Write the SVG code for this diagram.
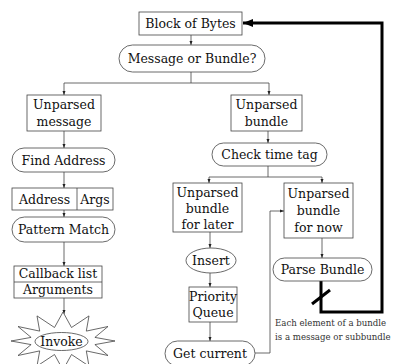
<svg xmlns="http://www.w3.org/2000/svg" width="401" height="364" viewBox="0 0 401 364">
<style>
.b{fill:#fff;stroke:#444;stroke-width:0.8}
.t{font-family:"DejaVu Serif","Liberation Serif",serif;font-size:12.5px;fill:#111;text-anchor:middle}
.s{font-family:"DejaVu Serif","Liberation Serif",serif;font-size:8.6px;fill:#333}
.c{fill:none;stroke:#444;stroke-width:0.8}
.k{fill:none;stroke:#000;stroke-width:3}
</style>
<defs>
<marker id="a" markerWidth="4" markerHeight="4" refX="4" refY="2" orient="auto" markerUnits="userSpaceOnUse"><path d="M0,0.5 L4,2 L0,3.5 Z" fill="#222"/></marker>
<marker id="A" markerWidth="10" markerHeight="8" refX="10" refY="4" orient="auto" markerUnits="userSpaceOnUse"><path d="M0,0 L10,4 L0,8 Z" fill="#000"/></marker>
</defs>
<g id="connectors">
<path class="c" d="M191,35 V45" marker-end="url(#a)"/>
<path class="c" d="M191,72 V83 M64,83 H269"/>
<path class="c" d="M64,83 V95" marker-end="url(#a)"/>
<path class="c" d="M269,83 V95" marker-end="url(#a)"/>
<path class="c" d="M64,131 V148" marker-end="url(#a)"/>
<path class="c" d="M64,172 V188" marker-end="url(#a)"/>
<path class="c" d="M64,210 V217" marker-end="url(#a)"/>
<path class="c" d="M64,242 V266" marker-end="url(#a)"/>
<path class="c" d="M64,298 V314" marker-end="url(#a)"/>
<path class="c" d="M268,131 V143" marker-end="url(#a)"/>
<path class="c" d="M268,166 V177 M209,177 H322"/>
<path class="c" d="M209,177 V183" marker-end="url(#a)"/>
<path class="c" d="M322,177 V183" marker-end="url(#a)"/>
<path class="c" d="M210,232 V248" marker-end="url(#a)"/>
<path class="c" d="M210,273 V287" marker-end="url(#a)"/>
<path class="c" d="M210,322 V341" marker-end="url(#a)"/>
<path class="c" d="M255,353 H270 V211 H284" marker-end="url(#a)"/>
<path class="c" d="M322,238 V258" marker-end="url(#a)"/>
<path class="k" d="M321,281 V312 H382 V23 H243" marker-end="url(#A)"/>
<path class="k" d="M312,304 L330,290"/>
</g>
<g id="block"><rect class="b" x="139" y="12" width="103" height="23"/><text class="t" x="190.5" y="28">Block of Bytes</text></g>
<g id="msgorbundle"><rect class="b" x="119" y="45" width="146" height="27" rx="13.5"/><text class="t" x="192" y="63">Message or Bundle?</text></g>
<g id="umsg"><rect class="b" x="27" y="95" width="74" height="36"/><text class="t" x="64" y="109">Unparsed</text><text class="t" x="64" y="126">message</text></g>
<g id="ubundle"><rect class="b" x="231" y="95" width="71" height="36"/><text class="t" x="266.5" y="109">Unparsed</text><text class="t" x="266.5" y="126">bundle</text></g>
<g id="findaddr"><rect class="b" x="12" y="148" width="103" height="24" rx="12"/><text class="t" x="63.5" y="164.5">Find Address</text></g>
<g id="addrargs"><rect class="b" x="12" y="188" width="101" height="22"/><line class="c" x1="77" y1="188" x2="77" y2="210"/><text class="t" x="44.5" y="203.5">Address</text><text class="t" x="95" y="203.5">Args</text></g>
<g id="pattern"><rect class="b" x="12" y="217" width="103" height="25" rx="12.5"/><text class="t" x="63.5" y="234">Pattern Match</text></g>
<g id="callback"><rect class="b" x="14" y="266" width="88" height="32"/><line class="c" x1="14" y1="282" x2="102" y2="282"/><text class="t" x="58" y="278">Callback list</text><text class="t" x="58" y="294">Arguments</text></g>
<g id="invoke"><polygon class="b" points="115,341 94.9,344.6 108,355.5 86.3,350.9 89,366.1 71.5,354.5 63,370 54.5,354.5 37,366.1 39.7,350.9 18,355.5 31.1,344.6 11,341 31.1,337.4 18,326.5 39.7,331.1 37,315.9 54.5,327.5 63,312 71.5,327.5 89,315.9 86.3,331.1 108,326.5 94.9,337.4"/><ellipse class="b" cx="61.5" cy="341.5" rx="26.5" ry="9"/><text class="t" x="61.5" y="346">Invoke</text></g>
<g id="checktime"><rect class="b" x="212" y="143" width="115" height="23" rx="11.5"/><text class="t" x="269.5" y="159">Check time tag</text></g>
<g id="later"><rect class="b" x="173" y="183" width="69" height="49"/><text class="t" x="207.5" y="197">Unparsed</text><text class="t" x="207.5" y="213">bundle</text><text class="t" x="207.5" y="229">for later</text></g>
<g id="now"><rect class="b" x="284" y="183" width="69" height="55"/><text class="t" x="318.5" y="198">Unparsed</text><text class="t" x="318.5" y="215">bundle</text><text class="t" x="318.5" y="232">for now</text></g>
<g id="insert"><ellipse class="b" cx="211" cy="260.5" rx="25" ry="12.5"/><text class="t" x="211" y="265">Insert</text></g>
<g id="pq"><rect class="b" x="189" y="287" width="48" height="35"/><text class="t" x="213" y="301">Priority</text><text class="t" x="213" y="317">Queue</text></g>
<g id="getcurrent"><rect class="b" x="165" y="341" width="90" height="25" rx="12.5"/><text class="t" x="210" y="358">Get current</text></g>
<g id="parse"><rect class="b" x="273" y="258" width="99" height="23" rx="11.5"/><text class="t" x="322.5" y="274">Parse Bundle</text></g>
<g id="note"><text class="s" x="275" y="326">Each element of a bundle</text><text class="s" x="275" y="340">is a message or subbundle</text></g>
</svg>
